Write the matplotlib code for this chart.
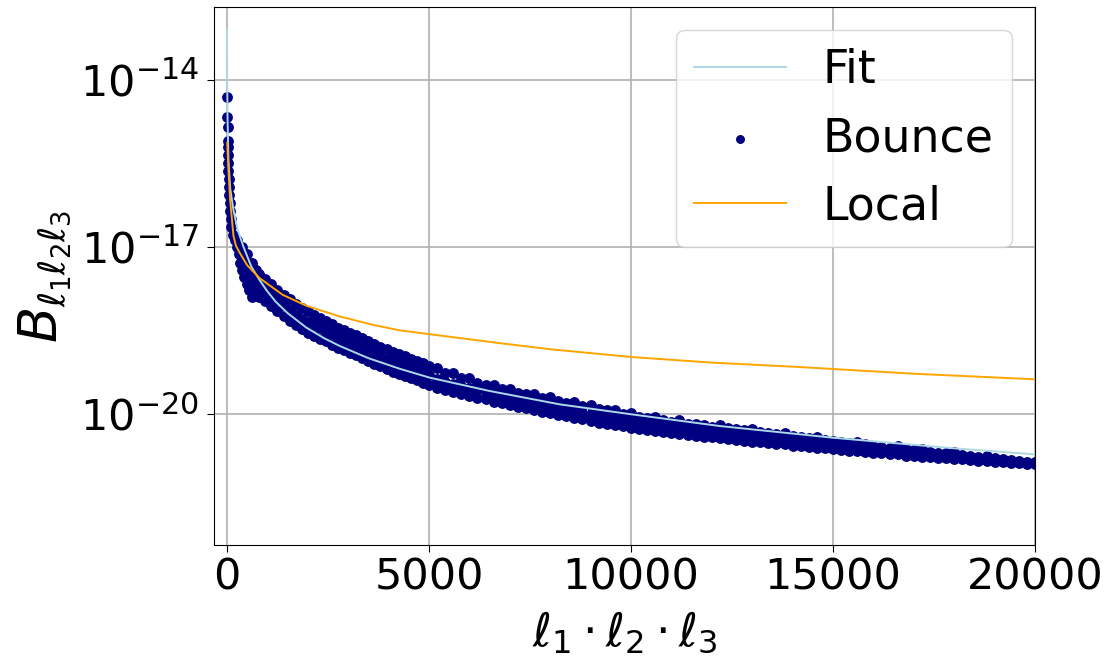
import numpy as np
import matplotlib
matplotlib.use('Agg')
import matplotlib.pyplot as plt
from matplotlib.ticker import NullLocator

# values are log10(B)

# fit curve
fit_x = [1, 6, 15, 37, 80, 161, 260, 409, 600, 810, 1000, 1200, 1500, 1962, 2400, 2787,
         3500, 4273, 5016, 6500, 8236, 10020, 12200, 15000, 18000, 20000]
fit_logb = [-13.10, -14.00, -14.70, -15.44, -15.95, -16.34, -16.68, -17.00, -17.35, -17.60,
            -17.80, -17.98, -18.19, -18.45, -18.64, -18.78, -19.00, -19.19, -19.35, -19.59,
            -19.83, -20.01, -20.22, -20.43, -20.62, -20.73]

# local template
local_x = [8, 37, 79, 161, 223, 310, 500, 805, 1375, 1970, 2787, 3604, 4273, 5016, 6750,
           8000, 10020, 12000, 14182, 17000, 20000]
local_logb = [-15.13, -15.62, -16.16, -16.80, -16.98, -17.10, -17.33, -17.56, -17.86, -18.06,
              -18.25, -18.40, -18.50, -18.57, -18.73, -18.84, -18.98, -19.08, -19.16, -19.28,
              -19.38]

# bounce points, steep part near l1*l2*l3 ~ 0
bounce_head_x = [8, 12, 16, 18, 24, 27, 32, 36, 40, 48, 54, 64, 75, 90, 105, 140,
                 193, 253, 255, 364, 292, 391, 488, 329, 471, 612, 379, 545, 711,
                 429, 614, 810, 490, 656, 830, 934, 552, 718, 892, 1058, 627, 793, 966, 1157]
bounce_head_logb = [-14.31, -14.67, -14.85, -15.10, -15.21, -15.35, -15.49, -15.64, -15.78,
                    -15.92, -16.07, -16.21, -16.36, -16.50, -16.64, -16.79,
                    -16.88, -16.88, -17.00, -17.00, -17.13, -17.13, -17.13,
                    -17.29, -17.29, -17.29, -17.42, -17.42, -17.42,
                    -17.54, -17.54, -17.54, -17.67, -17.67, -17.67, -17.67,
                    -17.78, -17.78, -17.78, -17.78, -17.90, -17.90, -17.90, -17.90]

# bounce band: top edge, middle and bottom edge at each product
bounce_x = [800, 950, 1100, 1250, 1400, 1550, 1700, 1850, 2000, 2150, 2300, 2450, 2600, 2750,
            2900, 3050, 3200, 3350, 3500, 3650, 3800, 3950, 4100, 4250, 4400, 4550, 4700, 4850,
            5000, 5200, 5400, 5600, 5800, 6000, 6200, 6400, 6600, 6800, 7000, 7200, 7400, 7600,
            7800, 8000, 8200, 8400, 8600, 8800, 9000, 9200, 9400, 9600, 9800, 10000, 10200,
            10400, 10600, 10800, 11000, 11200, 11400, 11600, 11800, 12000, 12200, 12400, 12600,
            12800, 13000, 13200, 13400, 13600, 13800, 14000, 14200, 14400, 14600, 14800, 15000,
            15200, 15400, 15600, 15800, 16000, 16200, 16400, 16600, 16800, 17000, 17200, 17400,
            17600, 17800, 18000, 18200, 18400, 18600, 18800, 19000, 19200, 19400, 19600, 19800,
            20000]
bounce_top = [-17.48, -17.58, -17.67, -17.77, -17.86, -17.94, -18.03, -18.10, -18.16, -18.22,
              -18.28, -18.34, -18.39, -18.45, -18.50, -18.54, -18.59, -18.64, -18.69, -18.75,
              -18.80, -18.84, -18.89, -18.93, -18.97, -19.01, -19.05, -19.09, -19.14,
              -19.18, -19.27, -19.27, -19.36, -19.36, -19.44, -19.48, -19.48, -19.55, -19.55,
              -19.62, -19.65, -19.64, -19.71, -19.70, -19.77, -19.80, -19.79, -19.86, -19.85,
              -19.92, -19.94, -19.93, -20.00, -19.99, -20.06, -20.08, -20.05, -20.12, -20.14,
              -20.11, -20.18, -20.19, -20.21, -20.23, -20.20, -20.26, -20.28, -20.30, -20.27,
              -20.33, -20.35, -20.37, -20.34, -20.40, -20.42, -20.44, -20.41, -20.47, -20.49,
              -20.50, -20.52, -20.50, -20.55, -20.57, -20.59, -20.61, -20.58, -20.64, -20.65,
              -20.63, -20.68, -20.70, -20.71, -20.69, -20.74, -20.76, -20.77, -20.75, -20.80,
              -20.81, -20.83, -20.84, -20.86, -20.87]
bounce_mid = [-17.68, -17.78, -17.87, -17.96, -18.05, -18.13, -18.22, -18.29, -18.35, -18.41,
              -18.46, -18.52, -18.57, -18.63, -18.68, -18.72, -18.77, -18.82, -18.87, -18.92,
              -18.97, -19.01, -19.06, -19.10, -19.14, -19.18, -19.22, -19.26, -19.31,
              -19.38, -19.42, -19.46, -19.50, -19.54, -19.57, -19.61, -19.65, -19.68, -19.72,
              -19.74, -19.77, -19.81, -19.83, -19.87, -19.89, -19.92, -19.95, -19.98, -20.01,
              -20.04, -20.06, -20.09, -20.11, -20.14, -20.16, -20.18, -20.20, -20.22, -20.24,
              -20.26, -20.28, -20.29, -20.31, -20.32, -20.34, -20.36, -20.37, -20.39, -20.41,
              -20.42, -20.44, -20.45, -20.47, -20.48, -20.50, -20.52, -20.53, -20.54, -20.56,
              -20.57, -20.59, -20.61, -20.62, -20.63, -20.65, -20.66, -20.68, -20.69, -20.70,
              -20.72, -20.73, -20.74, -20.75, -20.77, -20.78, -20.79, -20.80, -20.82, -20.83,
              -20.84, -20.85, -20.86, -20.88, -20.89]
bounce_bot = [-17.89, -17.98, -18.07, -18.16, -18.24, -18.33, -18.41, -18.48, -18.54, -18.60,
              -18.65, -18.70, -18.76, -18.81, -18.86, -18.90, -18.95, -19.00, -19.05, -19.10,
              -19.15, -19.19, -19.24, -19.28, -19.32, -19.36, -19.40, -19.44, -19.49,
              -19.53, -19.57, -19.61, -19.65, -19.68, -19.71, -19.74, -19.78, -19.81, -19.84,
              -19.87, -19.90, -19.93, -19.96, -19.99, -20.02, -20.04, -20.07, -20.10, -20.13,
              -20.16, -20.18, -20.20, -20.22, -20.25, -20.27, -20.29, -20.31, -20.32, -20.34,
              -20.36, -20.38, -20.39, -20.41, -20.42, -20.44, -20.46, -20.47, -20.49, -20.50,
              -20.51, -20.53, -20.54, -20.55, -20.57, -20.58, -20.60, -20.61, -20.62, -20.63,
              -20.65, -20.66, -20.67, -20.69, -20.70, -20.71, -20.72, -20.73, -20.75, -20.76,
              -20.77, -20.78, -20.79, -20.80, -20.81, -20.82, -20.83, -20.84, -20.85, -20.86,
              -20.87, -20.88, -20.89, -20.90, -20.91]

x_ticks = [0, 5000, 10000, 15000, 20000]
y_ticks = [1e-14, 1e-17, 1e-20]
y_tick_labels = [r'$10^{-14}$', r'$10^{-17}$', r'$10^{-20}$']

fig = plt.figure(figsize=(11.17, 6.64), dpi=100)
ax = fig.add_axes([0.1916, 0.179, 0.735, 0.8105])

all_x = np.concatenate([bounce_head_x, bounce_x, bounce_x, bounce_x])
all_logb = np.concatenate([bounce_head_logb, bounce_top, bounce_mid, bounce_bot])

ax.plot(fit_x, 10.0 ** np.array(fit_logb), color='lightblue', lw=1.4, label='Fit', zorder=3)
ax.scatter(all_x, 10.0 ** all_logb, s=46, color='navy', label='Bounce', zorder=2)
ax.plot(local_x, 10.0 ** np.array(local_logb), color='orange', lw=1.4, label='Local', zorder=3)

ax.set_yscale('log')
ax.set_xlim(-320, 20000)
ax.set_ylim(10 ** -22.36, 10 ** -12.69)
ax.set_xticks(x_ticks)
ax.set_yticks(y_ticks)
ax.set_yticklabels(y_tick_labels)
ax.yaxis.set_minor_locator(NullLocator())
ax.tick_params(labelsize=31, length=5)
ax.tick_params(axis='y', pad=6)
ax.grid(True, color='#b0b0b0', lw=1.2)

ax.set_xlabel(r'$\ell_1 \cdot \ell_2 \cdot \ell_3$', fontsize=33, labelpad=8)
ax.set_ylabel(r'$B_{\ell_1 \ell_2 \ell_3}$', fontsize=38, labelpad=4)
ax.legend(loc='upper right', fontsize=33, markerscale=0.8)

fig.savefig('out.png', dpi=100)
